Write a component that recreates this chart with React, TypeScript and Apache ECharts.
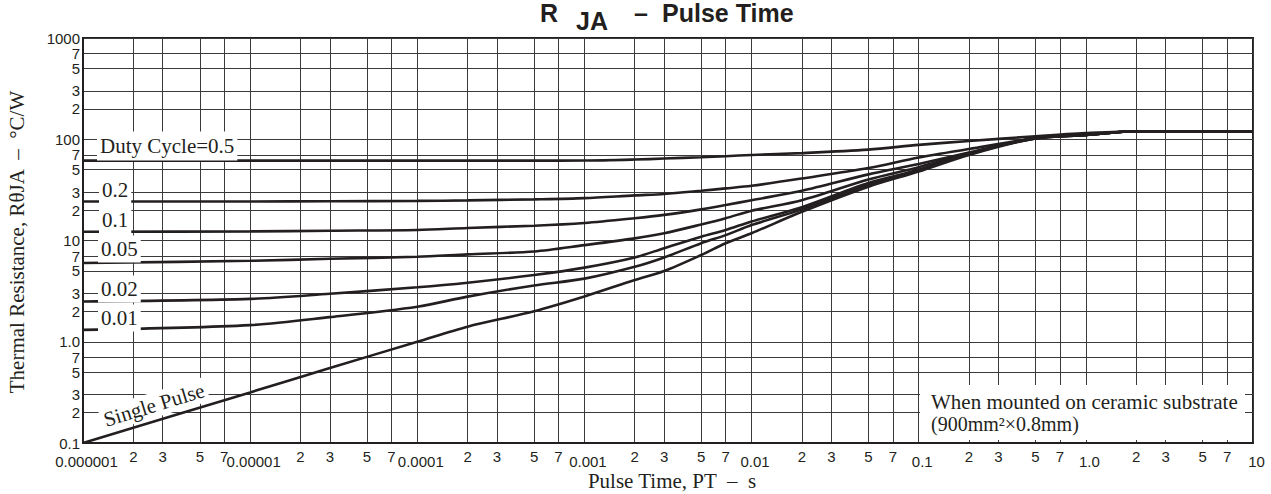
import React, { useEffect, useRef } from "react";
import * as echarts from "echarts";

// Pulse time (s) sample points shared by every curve
const pulseTimes = [
  1e-6, 1e-5, 3e-5, 1e-4, 2e-4, 5e-4, 1e-3, 2e-3, 3e-3, 5e-3, 7e-3, 1e-2,
  2e-2, 5e-2, 0.1, 0.2, 0.5, 1, 2, 5, 10,
];

// Transient thermal resistance (°C/W) per duty cycle
const duty05 = [61.5, 61.5, 61.5, 61.5, 61.5, 61.5, 61.6, 63, 64.5, 66.5, 68, 70, 73, 79, 88, 96, 107, 115, 120, 120, 120];
const duty02 = [24.3, 24.3, 24.4, 24.6, 24.9, 25.5, 26.2, 27.9, 28.8, 31, 32.7, 34.7, 41, 52, 66, 80, 102, 110, 120, 120, 120];
const duty01 = [12.2, 12.3, 12.5, 12.7, 13.3, 14.0, 14.9, 16.6, 17.9, 20.3, 22.4, 25, 31, 45, 57, 74, 102, 110, 120, 120, 120];
const duty005 = [6.0, 6.3, 6.6, 6.9, 7.3, 7.8, 9.0, 10.5, 11.8, 14.4, 16.6, 19.7, 25, 40, 53, 73, 103, 110, 120, 120, 120];
const duty002 = [2.5, 2.65, 2.98, 3.45, 3.83, 4.56, 5.4, 6.8, 8.4, 10.9, 12.7, 15.4, 21.3, 37, 50, 72, 103, 110, 120, 120, 120];
const duty001 = [1.31, 1.46, 1.75, 2.22, 2.79, 3.6, 4.2, 5.5, 6.8, 9.4, 11.3, 14.2, 20.3, 35.5, 49.5, 72, 103, 110, 120, 120, 120];
const singlePulse = [0.1, 0.316, 0.55, 1.0, 1.41, 2.0, 2.8, 4.07, 5.0, 7.2, 9.4, 11.8, 19.2, 34, 48, 70, 102, 110, 120, 120, 120];

const curveNames = ["0.5", "0.2", "0.1", "0.05", "0.02", "0.01", "Single Pulse"];
const curveValues = [duty05, duty02, duty01, duty005, duty002, duty001, singlePulse];

// Grid / tick positions and their labels
const xTickValues = [
  1e-6, 2e-6, 3e-6, 5e-6, 7e-6,
  1e-5, 2e-5, 3e-5, 5e-5, 7e-5,
  1e-4, 2e-4, 3e-4, 5e-4, 7e-4,
  1e-3, 2e-3, 3e-3, 5e-3, 7e-3,
  1e-2, 2e-2, 3e-2, 5e-2, 7e-2,
  0.1, 0.2, 0.3, 0.5, 0.7,
  1, 2, 3, 5, 7,
  10,
];
const xTickLabels = [
  "0.000001", "2", "3", "5", "7",
  "0.00001", "2", "3", "5", "7",
  "0.0001", "2", "3", "5", "7",
  "0.001", "2", "3", "5", "7",
  "0.01", "2", "3", "5", "7",
  "0.1", "2", "3", "5", "7",
  "1.0", "2", "3", "5", "7",
  "10",
];
const yTickValues = [
  0.1, 0.2, 0.3, 0.5, 0.7,
  1, 2, 3, 5, 7,
  10, 20, 30, 50, 70,
  100, 200, 300, 500, 700,
  1000,
];
const yTickLabels = [
  "0.1", "2", "3", "5", "7",
  "1.0", "2", "3", "5", "7",
  "10", "2", "3", "5", "7",
  "100", "2", "3", "5", "7",
  "1000",
];

const INK = "#231f20";
const GRID = "#3a3a3a";
const SERIF = "'Liberation Serif', 'Times New Roman', serif";
const SANS = "'Liberation Sans', Arial, sans-serif";

function lookupLabel(values: number[], labels: string[], v: number): string {
  const i = values.findIndex((t) => Math.abs(t - v) / t < 1e-6);
  return i < 0 ? "" : labels[i];
}

export default function App() {
  const ref = useRef<HTMLDivElement>(null);

  useEffect(() => {
    if (!ref.current) return;
    const chart = echarts.init(ref.current, null, { renderer: "svg" });

    const series = curveValues.map((vals, k) => ({
      type: "line",
      name: curveNames[k],
      data: pulseTimes.map((t, i) => [t, vals[i]]),
      showSymbol: false,
      smooth: 0.3,
      silent: true,
      lineStyle: { color: INK, width: 2.6 },
      z: 5,
    }));

    const noteStyle = {
      font: `21px ${SERIF}`,
      fill: INK,
      backgroundColor: "#fff",
    };
    const titleFont = `bold 25px ${SANS}`;

    chart.setOption({
      animation: false,
      backgroundColor: "#fff",
      grid: {
        left: 83,
        right: 18,
        top: 38,
        bottom: 51,
        show: true,
        borderColor: INK,
        borderWidth: 2,
        backgroundColor: "transparent",
      },
      xAxis: {
        type: "log",
        logBase: 10,
        min: 1e-6,
        max: 10,
        axisLine: { show: true, onZero: false, lineStyle: { color: INK, width: 2 } },
        axisTick: { show: false, customValues: xTickValues },
        splitLine: { show: true, lineStyle: { color: GRID, width: 1 } },
        axisLabel: {
          customValues: xTickValues,
          margin: 6,
          color: INK,
          fontFamily: SANS,
          fontSize: 15,
          formatter: (v: number) => {
            const s = lookupLabel(xTickValues, xTickLabels, v);
            return s.length > 1 ? `{major|${s}}` : `{minor|${s}}`;
          },
          rich: {
            major: { fontFamily: SANS, fontSize: 15, color: INK, padding: [5, 0, 0, 7] },
            minor: { fontFamily: SANS, fontSize: 15, color: INK },
          },
        },
      },
      yAxis: {
        type: "log",
        logBase: 10,
        min: 0.1,
        max: 1000,
        axisLine: { show: true, onZero: false, lineStyle: { color: INK, width: 2 } },
        axisTick: { show: false, customValues: yTickValues },
        splitLine: { show: true, lineStyle: { color: GRID, width: 1 } },
        axisLabel: {
          customValues: yTickValues,
          margin: 3,
          color: INK,
          fontFamily: SANS,
          fontSize: 15,
          formatter: (v: number) => lookupLabel(yTickValues, yTickLabels, v),
        },
      },
      series,
      graphic: [
        // chart title: R θJA – Pulse Time
        { type: "text", left: 540, top: 0, style: { text: "R", font: titleFont, fill: INK } },
        { type: "text", left: 576, top: 8, style: { text: "JA", font: titleFont, fill: INK } },
        { type: "text", left: 634, top: 0, style: { text: "–", font: titleFont, fill: INK } },
        { type: "text", left: 662, top: 0, style: { text: "Pulse Time", font: titleFont, fill: INK } },
        // axis names
        {
          type: "text",
          x: 17,
          y: 242,
          rotation: Math.PI / 2,
          style: {
            text: "Thermal Resistance, RθJA  –  °C/W",
            font: `21px ${SERIF}`,
            fill: INK,
            align: "center",
            verticalAlign: "middle",
          },
        },
        {
          type: "text",
          x: 672,
          y: 481,
          style: {
            text: "Pulse Time, PT  –  s",
            font: `21px ${SERIF}`,
            fill: INK,
            align: "center",
            verticalAlign: "middle",
          },
        },
        // curve labels
        {
          type: "text",
          x: 97,
          y: 146,
          z: 10,
          style: { ...noteStyle, text: "Duty Cycle=0.5", verticalAlign: "middle", padding: [5, 3, 3, 3] },
        },
        {
          type: "text",
          x: 99,
          y: 190,
          z: 10,
          style: { ...noteStyle, text: "0.2", verticalAlign: "middle", padding: [3, 3, 3, 3] },
        },
        {
          type: "text",
          x: 99,
          y: 220,
          z: 10,
          style: { ...noteStyle, text: "0.1", verticalAlign: "middle", padding: [3, 3, 3, 3] },
        },
        {
          type: "text",
          x: 98,
          y: 249,
          z: 10,
          style: { ...noteStyle, text: "0.05", verticalAlign: "middle", padding: [3, 3, 3, 3] },
        },
        {
          type: "text",
          x: 98,
          y: 289,
          z: 10,
          style: { ...noteStyle, text: "0.02", verticalAlign: "middle", padding: [3, 3, 3, 3] },
        },
        {
          type: "text",
          x: 98,
          y: 318,
          z: 10,
          style: { ...noteStyle, text: "0.01", verticalAlign: "middle", padding: [3, 3, 3, 3] },
        },
        {
          type: "text",
          x: 154,
          y: 405,
          rotation: (17 * Math.PI) / 180,
          z: 10,
          style: {
            ...noteStyle,
            text: "Single Pulse",
            align: "center",
            verticalAlign: "middle",
            padding: [2, 3, 2, 3],
          },
        },
        // mounting note: white panel with two text lines
        {
          type: "rect",
          z: 9,
          shape: { x: 920, y: 385, width: 325, height: 55 },
          style: { fill: "#fff" },
        },
        {
          type: "text",
          x: 931,
          y: 402,
          z: 10,
          style: {
            text: "When mounted on ceramic substrate",
            font: `21px ${SERIF}`,
            fill: INK,
            verticalAlign: "middle",
          },
        },
        {
          type: "text",
          x: 931,
          y: 424,
          z: 10,
          style: {
            text: "(900mm²×0.8mm)",
            font: `20px ${SERIF}`,
            fill: INK,
            verticalAlign: "middle",
          },
        },
      ],
    });

    return () => chart.dispose();
  }, []);

  return (
    <div
      ref={ref}
      style={{ position: "absolute", left: 0, top: 0, width: 1271, height: 494, background: "#fff" }}
    />
  );
}
